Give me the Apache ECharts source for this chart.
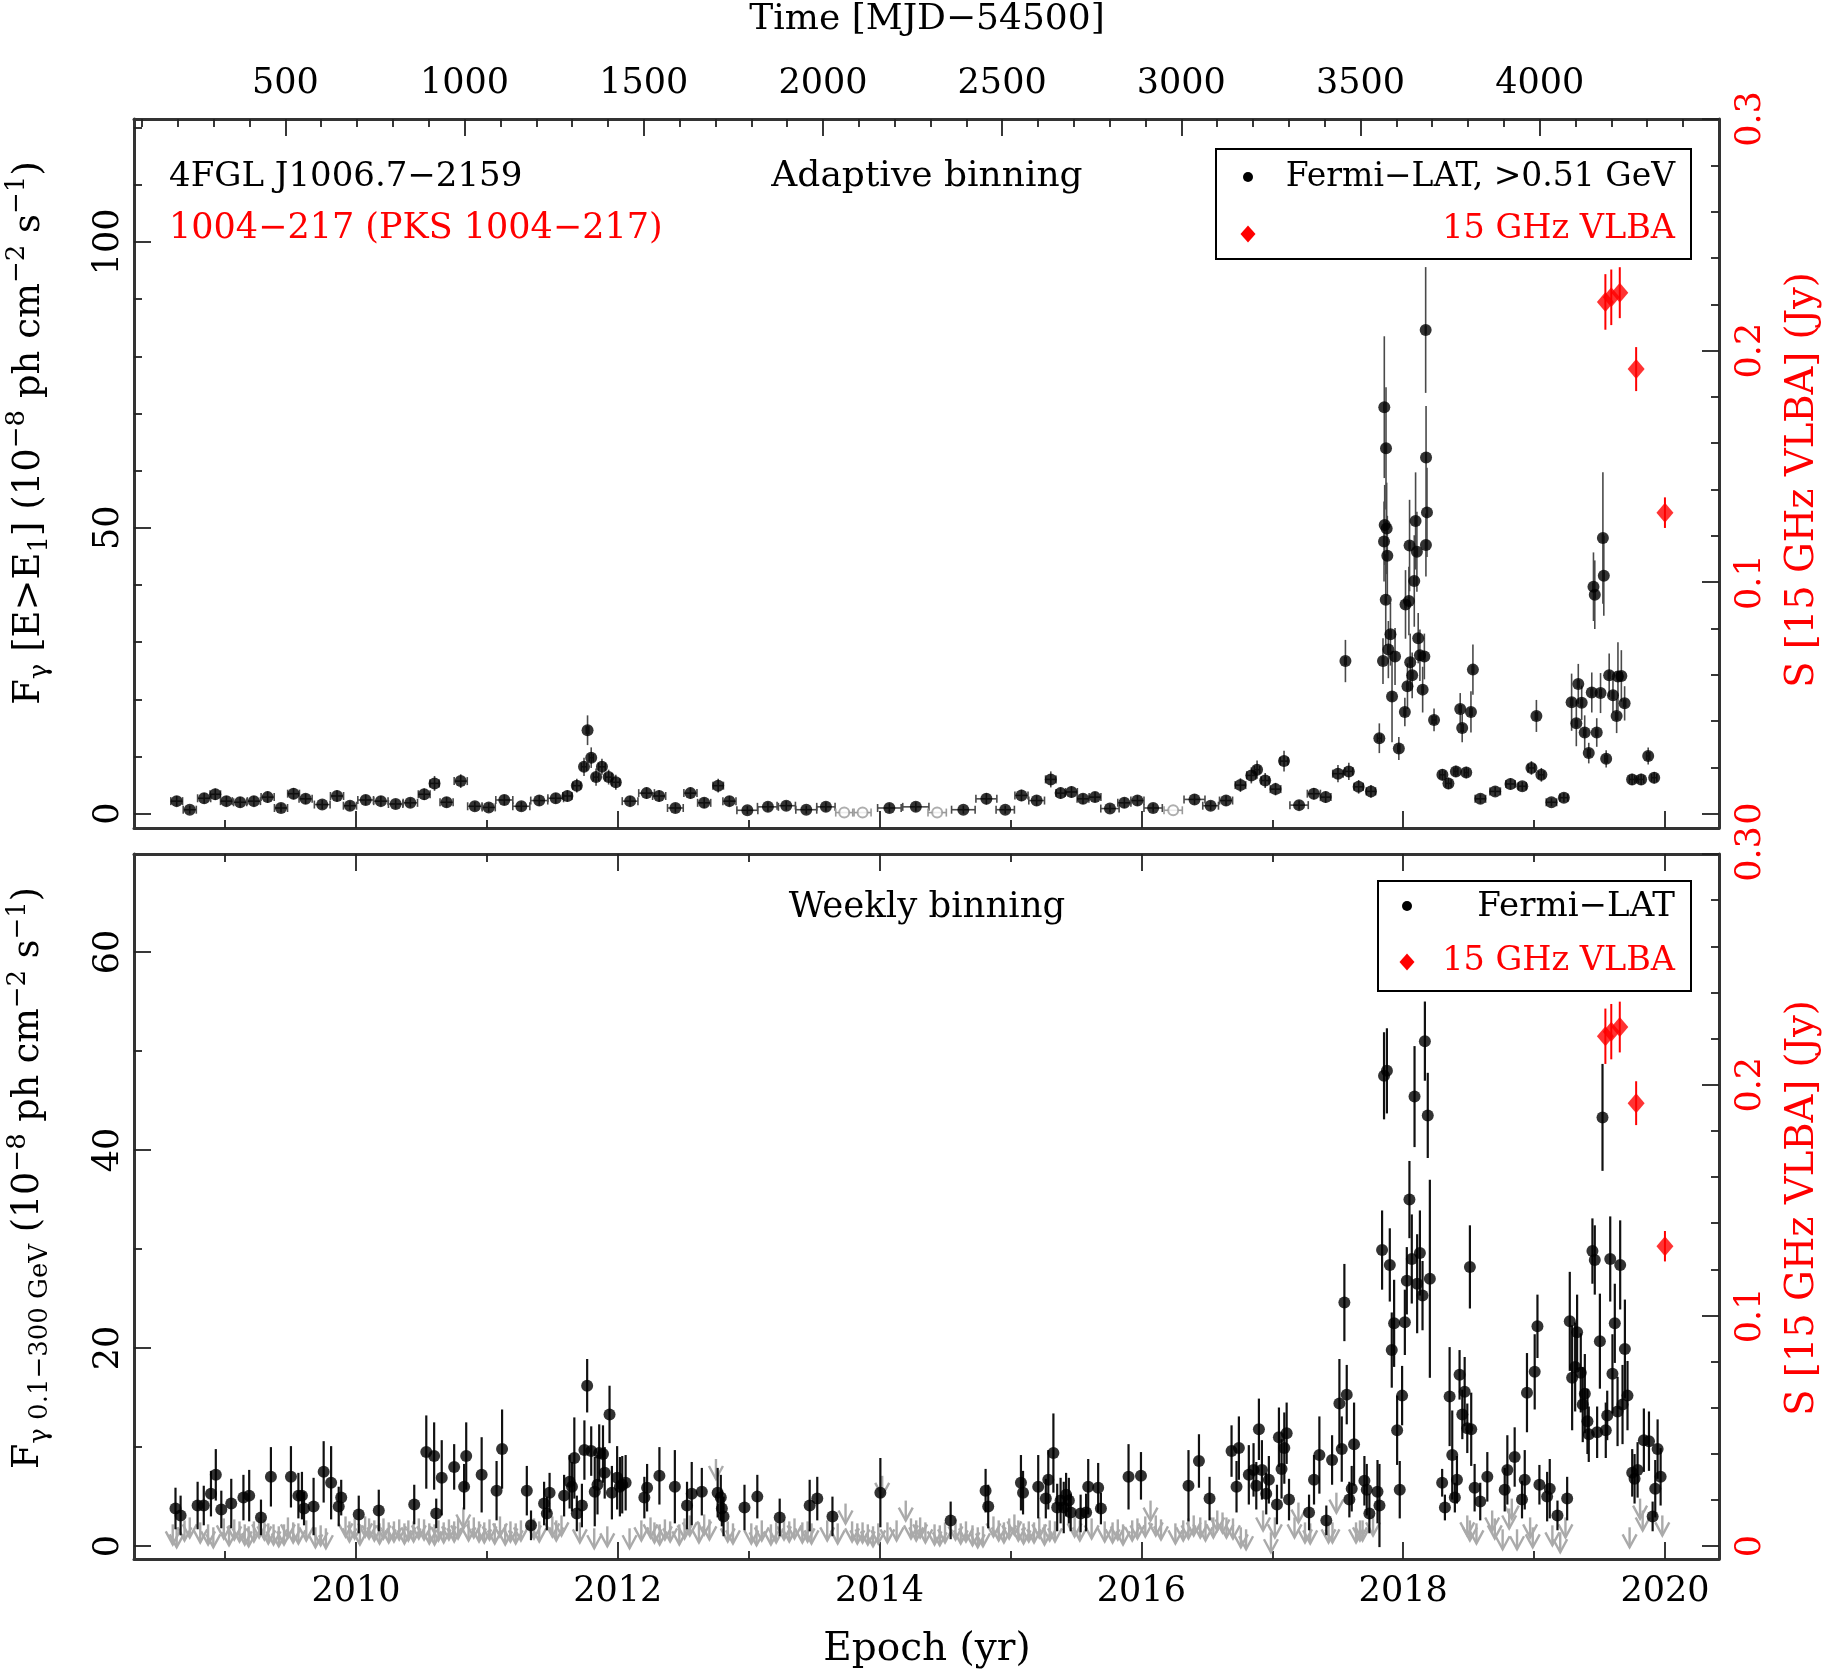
<!DOCTYPE html>
<html><head><meta charset="utf-8">
<script src="https://cdn.jsdelivr.net/npm/echarts@6.0.0/dist/echarts.min.js"></script>
<style>html,body{margin:0;padding:0;background:#fff}#c{width:1826px;height:1671px}</style>
</head><body><div id="c"></div>
<script>
// ---------------- DATA ----------------
// Top panel: adaptive binning, Fermi-LAT >0.51 GeV (1e-8 ph cm^-2 s^-1)
const topYear = [2008.63,2008.73,2008.84,2008.925,2009.01,2009.115,2009.22,2009.325,2009.427,2009.523,2009.615,2009.742,2009.855,2009.954,2010.074,2010.19,2010.303,2010.415,2010.521,2010.60,2010.692,2010.80,2010.908,2011.014,2011.133,2011.263,2011.40,2011.526,2011.615,2011.687,2011.742,2011.769,2011.797,2011.834,2011.879,2011.93,2011.985,2012.094,2012.22,2012.316,2012.44,2012.555,2012.66,2012.767,2012.853,2012.99,2013.147,2013.287,2013.44,2013.59,2014.075,2014.277,2014.64,2014.816,2014.96,2015.084,2015.2,2015.308,2015.383,2015.466,2015.554,2015.646,2015.76,2015.87,2015.97,2016.09,2016.406,2016.529,2016.647,2016.757,2016.84,2016.884,2016.946,2017.025,2017.09,2017.205,2017.318,2017.408,2017.502,2017.559,2017.585,2017.66,2017.754,2017.818,2017.846,2017.856,2017.869,2017.859,2017.874,2017.854,2017.879,2017.867,2017.903,2017.887,2017.938,2017.915,2017.967,2018.013,2018.033,2018.054,2018.069,2018.018,2018.044,2018.049,2018.085,2018.095,2018.105,2018.115,2018.128,2018.149,2018.162,2018.174,2018.172,2018.175,2018.182,2018.236,2018.30,2018.346,2018.403,2018.436,2018.451,2018.482,2018.518,2018.533,2018.59,2018.703,2018.82,2018.91,2018.98,2019.018,2019.056,2019.133,2019.228,2019.287,2019.323,2019.338,2019.364,2019.387,2019.418,2019.441,2019.454,2019.464,2019.479,2019.508,2019.526,2019.533,2019.551,2019.574,2019.603,2019.631,2019.641,2019.667,2019.692,2019.749,2019.818,2019.872,2019.918];
const topFlux = [2.2,0.7,2.7,3.4,2.2,2.0,2.2,2.9,1.0,3.5,2.6,1.6,3.1,1.4,2.4,2.2,1.7,1.9,3.4,5.3,2.0,5.7,1.3,1.1,2.4,1.3,2.3,2.7,3.1,4.9,8.2,14.6,9.8,6.4,8.2,6.4,5.5,2.2,3.6,3.1,1.0,3.6,1.9,4.9,2.2,0.6,1.2,1.4,0.7,1.2,1.0,1.2,0.7,2.6,0.7,3.2,2.3,6.0,3.6,3.8,2.6,2.9,0.9,1.9,2.3,1.0,2.5,1.4,2.3,5.0,6.7,7.7,5.8,4.3,9.2,1.5,3.5,2.9,7.0,26.7,7.4,4.7,3.9,13.2,26.7,71.1,63.9,50.5,49.9,47.6,45.1,37.4,31.4,28.7,27.5,20.5,11.4,17.8,22.3,26.5,24.2,36.6,37.2,46.9,40.7,51.2,45.8,30.7,27.7,21.7,27.5,47.0,84.6,62.3,52.7,16.4,6.8,5.3,7.4,18.3,15.0,7.2,17.8,25.2,2.6,3.9,5.2,4.8,8.0,17.1,6.8,2.0,2.8,19.5,15.8,22.7,19.4,14.2,10.6,21.2,39.7,38.3,14.2,21.1,48.2,41.6,9.6,24.2,20.7,17.1,24.0,24.1,19.3,6.0,6.0,10.1,6.3];
const topErr = [0.9,0.7,0.9,1.0,0.9,0.9,0.9,1.0,0.8,1.0,0.9,0.8,1.0,0.8,0.9,0.9,0.8,0.8,1.0,1.3,0.9,1.2,0.8,0.8,0.9,0.8,0.9,0.9,1.0,1.2,1.6,2.6,1.8,1.5,1.4,1.3,1.3,0.9,1.0,1.0,0.8,1.0,0.9,1.2,0.9,0.7,0.8,0.8,0.7,0.8,0.8,0.8,0.7,1.0,0.7,1.0,0.9,1.4,1.0,1.0,0.9,0.9,0.7,0.9,0.9,0.8,0.9,0.8,0.9,1.2,1.4,1.6,1.3,1.1,1.8,0.8,1.0,1.0,1.5,3.7,1.5,1.2,1.1,2.6,4.0,12.4,10.7,7,8,7,7,8,5.5,5,5,8,2,2.5,4,5,4,6,6,8,8,8.5,7,4.4,4.5,4,4,5.5,11,9,7.8,2,1,1,1,2.8,2.5,1,3.6,4.4,0.8,0.8,1.0,0.8,1.2,2.8,1.2,0.7,0.8,5,4,3.5,3,3,1.8,3.5,6,6,2.5,3.5,11.5,7,1.5,3.8,3,3,6,4.5,3,1,1,1.5,1];
const topXerr = [0.045,0.05,0.05,0.04,0.045,0.05,0.05,0.05,0.05,0.045,0.05,0.06,0.05,0.05,0.06,0.055,0.055,0.055,0.045,0.035,0.05,0.05,0.055,0.05,0.065,0.065,0.065,0.06,0.035,0.03,0.02,0.01,0.015,0.02,0.025,0.025,0.03,0.06,0.06,0.05,0.06,0.05,0.05,0.04,0.05,0.08,0.08,0.07,0.08,0.07,0.09,0.1,0.09,0.08,0.07,0.05,0.06,0.04,0.035,0.045,0.045,0.045,0.07,0.05,0.05,0.07,0.08,0.06,0.05,0.04,0.035,0.02,0.03,0.04,0.03,0.07,0.05,0.04,0.04,0.006,0.03,0.035,0.035,0.015,0.005,0.003,0.003,0.003,0.003,0.003,0.003,0.003,0.004,0.004,0.005,0.005,0.008,0.006,0.005,0.005,0.005,0.004,0.004,0.003,0.003,0.003,0.003,0.004,0.004,0.005,0.004,0.003,0.002,0.002,0.003,0.015,0.02,0.02,0.015,0.008,0.008,0.015,0.008,0.006,0.04,0.04,0.035,0.03,0.025,0.008,0.02,0.04,0.03,0.008,0.008,0.006,0.006,0.008,0.01,0.006,0.004,0.004,0.008,0.006,0.003,0.003,0.01,0.006,0.006,0.008,0.006,0.006,0.008,0.02,0.02,0.012,0.02];
// low-significance adaptive bins (open grey circles)
const topOpenYear = [2013.73,2013.87,2014.44,2016.243];
const topOpenFlux = [0.2,0.2,0.2,0.6];
const topOpenXerr = [0.065,0.065,0.07,0.07];

// 15 GHz VLBA (Jy)
const vlbaYear = [2019.545,2019.59,2019.655,2019.78,2020.0];
const vlbaFlux = [0.221,0.223,0.225,0.192,0.130];
const vlbaErr  = [0.012,0.012,0.011,0.0095,0.0066];

// Bottom panel: weekly binning, 0.1-300 GeV detections
const wkYear = [2008.621,2008.66,2008.79,2008.837,2008.892,2008.929,2008.971,2009.047,2009.14,2009.184,2009.274,2009.35,2009.503,2009.56,2009.587,2009.603,2009.676,2009.753,2009.81,2009.868,2009.887,2010.021,2010.174,2010.445,2010.537,2010.597,2010.613,2010.655,2010.75,2010.826,2010.842,2010.96,2011.074,2011.116,2011.305,2011.337,2011.437,2011.458,2011.479,2011.59,2011.632,2011.65,2011.668,2011.687,2011.726,2011.745,2011.766,2011.797,2011.824,2011.845,2011.858,2011.887,2011.9,2011.937,2011.955,2011.995,2012.016,2012.034,2012.06,2012.203,2012.224,2012.318,2012.436,2012.529,2012.565,2012.642,2012.763,2012.787,2012.795,2012.808,2012.968,2013.066,2013.237,2013.466,2013.524,2013.64,2014.006,2014.543,2014.81,2014.83,2015.08,2015.096,2015.212,2015.27,2015.289,2015.328,2015.357,2015.383,2015.407,2015.425,2015.446,2015.46,2015.536,2015.578,2015.594,2015.67,2015.691,2015.902,2015.997,2016.36,2016.44,2016.521,2016.689,2016.727,2016.745,2016.821,2016.857,2016.878,2016.898,2016.921,2016.954,2016.974,2017.036,2017.051,2017.071,2017.092,2017.11,2017.128,2017.281,2017.319,2017.36,2017.413,2017.457,2017.513,2017.531,2017.551,2017.569,2017.589,2017.607,2017.625,2017.704,2017.722,2017.742,2017.804,2017.819,2017.839,2017.854,2017.876,2017.898,2017.913,2017.931,2017.954,2017.974,2017.992,2018.013,2018.028,2018.048,2018.066,2018.087,2018.107,2018.128,2018.148,2018.166,2018.188,2018.204,2018.298,2018.319,2018.355,2018.375,2018.395,2018.411,2018.431,2018.452,2018.47,2018.49,2018.51,2018.52,2018.546,2018.589,2018.643,2018.776,2018.796,2018.852,2018.908,2018.929,2018.946,2019.005,2019.026,2019.041,2019.1,2019.12,2019.179,2019.253,2019.273,2019.291,2019.314,2019.329,2019.357,2019.372,2019.388,2019.408,2019.418,2019.446,2019.464,2019.482,2019.503,2019.523,2019.548,2019.559,2019.582,2019.599,2019.617,2019.638,2019.658,2019.676,2019.694,2019.714,2019.75,2019.768,2019.791,2019.839,2019.878,2019.906,2019.926,2019.944,2019.967];
const wkFlux = [3.8,3.1,4.1,4.1,5.3,7.2,3.7,4.3,4.9,5.1,2.9,7.0,7.0,5.1,5.1,3.8,4.0,7.5,6.4,4.0,4.9,3.2,3.6,4.2,9.5,9.1,3.3,6.9,8.0,6.0,9.1,7.2,5.6,9.8,5.6,2.1,4.3,3.3,5.4,5.1,6.5,6.0,8.9,3.3,4.1,9.7,16.2,9.6,5.5,6.2,9.4,9.3,7.4,13.3,5.4,6.9,6.0,6.2,6.4,4.9,5.9,7.1,6.0,4.1,5.3,5.5,5.4,4.9,3.8,3.0,3.9,5.0,2.9,4.1,4.8,3.0,5.4,2.6,5.6,4.0,6.4,5.4,6.0,4.8,6.7,9.4,3.9,4.6,3.9,5.2,4.6,3.4,3.3,3.4,6.0,5.9,3.8,7.0,7.1,6.1,8.6,4.8,9.6,6.0,9.9,7.2,7.7,6.1,11.8,7.7,5.3,6.7,4.2,11.0,7.8,9.9,11.4,4.7,3.4,6.7,9.2,2.6,8.7,14.4,9.8,24.6,15.3,4.7,5.8,10.3,6.6,5.7,3.3,5.5,4.1,29.9,47.5,48.0,28.4,19.8,22.5,11.7,5.7,15.2,22.6,26.8,35.0,29.0,45.4,26.5,29.6,25.3,51.0,43.5,27.0,6.4,3.9,15.1,9.2,4.9,6.7,17.3,13.3,15.6,11.9,28.2,11.8,5.9,4.5,7.0,5.7,7.7,9.0,4.7,6.7,15.5,17.6,22.2,6.2,5.0,5.8,3.1,4.8,22.7,17.0,18.1,21.6,17.5,14.3,15.4,12.6,11.3,29.8,28.9,11.5,20.7,43.3,11.7,13.2,29.0,17.4,22.5,13.6,28.4,14.3,19.9,15.2,7.4,6.8,7.7,10.7,10.6,3.0,5.8,9.8,7.0];
const wkErr = [2.1,2.0,2.4,2.0,2.3,2.6,1.9,2.5,2.3,2.6,1.8,3.0,3.1,2.3,2.4,1.7,2.9,3.1,3.7,2.0,1.8,1.9,2.1,2.0,3.7,3.4,1.5,3.8,2.3,2.3,3.4,3.8,3.0,4.0,2.5,1.5,2.2,1.7,2.0,2.1,2.7,2.5,4.1,1.8,2.2,3.0,2.7,2.5,3.5,3.0,2.9,2.9,2.6,2.9,2.7,3.2,3.0,2.9,2.8,2.1,2.4,2.9,3.7,2.4,3.2,2.4,2.5,2.3,1.8,2.0,2.3,2.2,1.9,2.6,2.2,2.0,3.5,1.9,2.2,2.2,2.8,2.2,3.2,2.0,3.0,4.0,2.4,2.3,2.6,2.2,2.3,1.9,1.9,1.9,2.8,2.5,1.6,3.3,2.4,3.6,2.7,2.2,2.6,2.6,3.2,3.0,2.7,2.4,3.1,3.0,2.1,2.4,2.0,3.0,3.0,3.6,3.1,2.1,1.8,2.5,3.9,1.5,2.5,4.5,3.3,3.9,3.0,1.8,2.3,4.2,2.5,2.6,2.0,3.2,4.2,4.0,4.4,4.3,3.7,3.8,4.4,3.5,2.9,3.0,3.3,3.4,3.9,4.5,5.1,5.0,4.3,3.5,4.0,4.3,10.0,1.4,1.3,5.0,4.5,1.5,2.4,2.5,2.5,3.5,2.5,4.2,3.7,2.4,1.9,2.5,2.2,3.5,3.0,1.9,3.0,4.0,3.8,3.2,2.0,2.5,3.0,1.5,2.2,5.0,5.3,4.5,3.8,4.0,3.8,4.0,3.3,2.8,3.3,3.5,2.6,4.8,5.4,2.8,2.5,4.3,4.0,4.0,3.5,4.5,4.0,5.0,3.5,2.4,2.5,2.8,3.2,3.0,1.5,2.9,3.0,2.9];

// Bottom panel: weekly upper limits (grey arrows)
const ulYear = [2008.60,2008.63,2008.69,2008.73,2008.81,2008.87,2008.91,2008.99,2009.03,2009.07,2009.11,2009.15,2009.18,2009.22,2009.26,2009.30,2009.33,2009.37,2009.41,2009.45,2009.48,2009.52,2009.56,2009.62,2009.69,2009.73,2009.77,2009.92,2009.95,2009.99,2010.03,2010.07,2010.10,2010.14,2010.18,2010.21,2010.25,2010.29,2010.33,2010.37,2010.40,2010.44,2010.48,2010.52,2010.56,2010.60,2010.63,2010.67,2010.71,2010.75,2010.78,2010.82,2010.86,2010.90,2010.94,2010.98,2011.02,2011.06,2011.10,2011.14,2011.18,2011.22,2011.26,2011.36,2011.40,2011.50,2011.53,2011.57,2011.71,2011.82,2011.92,2012.09,2012.18,2012.25,2012.28,2012.32,2012.36,2012.40,2012.47,2012.51,2012.55,2012.62,2012.66,2012.70,2012.75,2012.84,2012.88,2013.02,2013.06,2013.10,2013.17,2013.21,2013.27,2013.31,2013.35,2013.41,2013.45,2013.48,2013.60,2013.68,2013.74,2013.79,2013.83,2013.87,2013.91,2013.95,2013.99,2014.02,2014.06,2014.13,2014.20,2014.24,2014.28,2014.31,2014.35,2014.42,2014.46,2014.50,2014.58,2014.62,2014.66,2014.71,2014.75,2014.79,2014.87,2014.91,2014.95,2014.99,2015.03,2015.06,2015.10,2015.14,2015.18,2015.22,2015.26,2015.30,2015.34,2015.49,2015.53,2015.62,2015.72,2015.78,2015.82,2015.86,2015.93,2015.97,2016.03,2016.07,2016.11,2016.15,2016.26,2016.32,2016.36,2016.40,2016.45,2016.49,2016.55,2016.58,2016.62,2016.65,2016.70,2016.76,2016.80,2016.93,2016.99,2017.02,2017.17,2017.20,2017.25,2017.29,2017.43,2017.46,2017.49,2017.64,2017.67,2017.69,2017.77,2018.49,2018.51,2018.56,2018.68,2018.70,2018.76,2018.81,2018.83,2018.87,2018.97,2018.99,2019.14,2019.20,2019.24,2019.73,2019.81,2019.83,2019.98];
const ulFlux = [2.2,1.9,2.6,2.9,2.4,2.2,1.9,2.8,2.1,2.7,2.5,2.2,2.0,2.5,2.9,2.7,2.3,2.2,2.0,2.2,2.9,2.4,2.3,2.6,1.9,2.1,1.8,3.0,2.5,2.8,2.2,3.0,2.8,2.6,2.3,2.8,2.4,2.5,2.7,2.3,2.6,2.5,2.8,2.7,2.3,2.2,2.6,2.4,2.7,2.5,2.8,3.9,2.6,2.9,2.5,2.4,2.7,2.3,3.0,2.2,2.5,2.3,2.6,2.8,2.5,3.0,2.6,3.1,2.4,1.8,2.0,1.8,2.6,2.9,2.4,2.2,2.7,2.5,2.2,2.8,3.1,2.4,3.2,2.7,8.8,2.5,2.3,2.3,2.1,2.6,2.2,2.4,2.7,2.5,2.8,2.4,2.5,2.3,2.6,2.3,4.3,2.5,2.3,2.4,2.2,2.0,2.3,7.1,2.4,2.6,4.6,2.8,2.6,2.9,2.4,2.2,2.1,2.4,2.7,2.3,2.5,2.1,1.9,2.0,3.0,2.6,2.4,2.8,3.2,2.6,2.3,2.5,2.4,2.9,2.2,2.6,2.5,3.0,2.6,2.8,2.5,2.4,2.7,2.2,2.6,2.8,3.0,4.6,3.1,2.7,2.3,2.6,2.8,3.1,2.9,2.6,2.9,3.6,3.4,2.9,2.8,1.9,1.7,3.6,1.4,2.9,2.9,4.4,2.4,2.3,2.4,2.4,5.4,2.4,2.6,2.6,3.1,3.1,2.6,2.3,3.6,2.8,1.7,3.8,4.8,1.7,2.9,1.9,2.1,1.4,2.9,1.9,4.8,3.6,3.1];

// Axis ticks and labels
const yearMajor = [2010,2012,2014,2016,2018,2020];
const yearMinor = [2009,2011,2013,2015,2017,2019];
const mjdMajor = [500,1000,1500,2000,2500,3000,3500,4000];
const mjdMinor = [100,200,300,400,600,700,800,900,1100,1200,1300,1400,1600,1700,1800,1900,2100,2200,2300,2400,2600,2700,2800,2900,3100,3200,3300,3400,3600,3700,3800,3900,4100,4200,4300,4400];
const topLeftMajor = [0,50,100];
const topLeftMinor = [10,20,30,40,60,70,80,90,110,120];
const botLeftMajor = [0,20,40,60];
const botLeftMinor = [10,30,50];
const jyMajor = [0,0.1,0.2,0.3];
const jyMinor = [0.02,0.04,0.06,0.08,0.12,0.14,0.16,0.18,0.22,0.24,0.26,0.28];

// ---------------- CONFIG ----------------
const yearMin = 2008.304, yearMax = 2020.413;
const MJD0_YEAR = 2008.0917; // decimal year of MJD 54500
const mjdMin = (yearMin - MJD0_YEAR) * 365.25;
const mjdMax = (yearMax - MJD0_YEAR) * 365.25;
const topMin = -2.5, topMax = 121.5;
const botMin = -1.3, botMax = 69.9;
const jyMax = 0.3;
const topJyMin = topMin / topMax * jyMax;
const botJyMin = botMin / botMax * jyMax;

const FONT = 'DejaVu Serif';
const AXC = '#333';
const LBL = 35;

function ax(o) {
  return {
    type: 'value', gridIndex: o.grid, position: o.pos, min: o.min, max: o.max,
    axisLine: {show: !!o.line, onZero: false, lineStyle: {color: AXC, width: 3}},
    axisTick: {show: true, inside: true, length: o.len, customValues: o.ticks, lineStyle: {color: '#222', width: 1.8}},
    axisLabel: o.labels ? {show: true, customValues: o.labels, rotate: o.rotate || 0, margin: o.margin,
      fontFamily: FONT, fontSize: LBL, color: o.color || '#000',
      formatter: o.fmt || (v => String(v))} : {show: false},
    splitLine: {show: false}, splitArea: {show: false}
  };
}

const xAxes = [
  ax({grid:0, pos:'bottom', min:yearMin, max:yearMax, ticks:yearMajor, len:17, line:true}),
  ax({grid:0, pos:'bottom', min:yearMin, max:yearMax, ticks:yearMinor, len:8}),
  ax({grid:0, pos:'top', min:mjdMin, max:mjdMax, ticks:mjdMajor, len:17, line:true, labels:mjdMajor, margin:18}),
  ax({grid:0, pos:'top', min:mjdMin, max:mjdMax, ticks:mjdMinor, len:8}),
  ax({grid:1, pos:'bottom', min:yearMin, max:yearMax, ticks:yearMajor, len:17, line:true, labels:yearMajor, margin:15}),
  ax({grid:1, pos:'bottom', min:yearMin, max:yearMax, ticks:yearMinor, len:8}),
  ax({grid:1, pos:'top', min:yearMin, max:yearMax, ticks:yearMajor, len:17, line:true}),
  ax({grid:1, pos:'top', min:yearMin, max:yearMax, ticks:yearMinor, len:8})
];
const jyFmt = v => (v === 0 ? '0' : String(Math.round(v * 10) / 10));
const yAxes = [
  ax({grid:0, pos:'left', min:topMin, max:topMax, ticks:topLeftMajor, len:17, line:true, labels:topLeftMajor, rotate:90, margin:8}),
  ax({grid:0, pos:'left', min:topMin, max:topMax, ticks:topLeftMinor, len:8}),
  ax({grid:0, pos:'right', min:topJyMin, max:jyMax, ticks:jyMajor, len:17, line:true, labels:jyMajor, rotate:90, margin:14, color:'#ff0000', fmt:jyFmt}),
  ax({grid:0, pos:'right', min:topJyMin, max:jyMax, ticks:jyMinor, len:8}),
  ax({grid:1, pos:'left', min:botMin, max:botMax, ticks:botLeftMajor, len:17, line:true, labels:botLeftMajor, rotate:90, margin:8}),
  ax({grid:1, pos:'left', min:botMin, max:botMax, ticks:botLeftMinor, len:8}),
  ax({grid:1, pos:'right', min:botJyMin, max:jyMax, ticks:jyMajor, len:17, line:true, labels:jyMajor, rotate:90, margin:14, color:'#ff0000', fmt:jyFmt}),
  ax({grid:1, pos:'right', min:botJyMin, max:jyMax, ticks:jyMinor, len:8})
];

function errSeries(xi, yi, data, color, lw, cap, z) {
  return {
    type: 'custom', xAxisIndex: xi, yAxisIndex: yi, z: z, silent: true, clip: false,
    data: data, encode: {x: 0, y: 1},
    renderItem: function (params, api) {
      const x = api.value(0), y = api.value(1), xe = api.value(2), ye = api.value(3);
      const c = api.coord([x, y]);
      const t = api.coord([x, y + ye]), b = api.coord([x, y - ye]);
      const st = {stroke: color, lineWidth: lw};
      const ch = [{type: 'line', shape: {x1: c[0], y1: t[1], x2: c[0], y2: b[1]}, style: st}];
      if (xe > 0) {
        const l = api.coord([x - xe, y]), r = api.coord([x + xe, y]);
        ch.push({type: 'line', shape: {x1: l[0], y1: c[1], x2: r[0], y2: c[1]}, style: st});
        ch.push({type: 'line', shape: {x1: l[0], y1: c[1] - cap, x2: l[0], y2: c[1] + cap}, style: st});
        ch.push({type: 'line', shape: {x1: r[0], y1: c[1] - cap, x2: r[0], y2: c[1] + cap}, style: st});
      }
      return {type: 'group', children: ch};
    }
  };
}

const ulSeries = {
  type: 'custom', xAxisIndex: 4, yAxisIndex: 4, z: 1, silent: true,
  data: ulYear.map((x, i) => [x, ulFlux[i]]), encode: {x: 0, y: 1},
  renderItem: function (params, api) {
    const c = api.coord([api.value(0), api.value(1)]);
    const st = {stroke: '#aaaaaa', lineWidth: 2.4, fill: 'none', lineJoin: 'miter'};
    return {type: 'group', children: [
      {type: 'line', shape: {x1: c[0], y1: c[1], x2: c[0], y2: c[1] + 20}, style: st},
      {type: 'polyline', shape: {points: [[c[0] - 7, c[1] + 7], [c[0], c[1] + 20], [c[0] + 7, c[1] + 7]]}, style: st}
    ]};
  }
};

const series = [
  errSeries(0, 0, topYear.map((x, i) => [x, topFlux[i], topXerr[i], topErr[i]]), '#4a4a4a', 1.6, 4, 2),
  errSeries(0, 0, topOpenYear.map((x, i) => [x, topOpenFlux[i], topOpenXerr[i], 0]), '#9a9a9a', 1.6, 4, 2),
  {type: 'scatter', xAxisIndex: 0, yAxisIndex: 0, z: 3, silent: true, symbol: 'circle', symbolSize: 12,
   itemStyle: {color: '#000'}, data: topYear.map((x, i) => [x, topFlux[i]])},
  {type: 'scatter', xAxisIndex: 0, yAxisIndex: 0, z: 3, silent: true, symbol: 'emptyCircle', symbolSize: 10,
   itemStyle: {color: '#9a9a9a', borderWidth: 1.6}, data: topOpenYear.map((x, i) => [x, topOpenFlux[i]])},
  errSeries(0, 2, vlbaYear.map((x, i) => [x, vlbaFlux[i], 0, vlbaErr[i]]), '#ff0000', 2, 0, 4),
  {type: 'scatter', xAxisIndex: 0, yAxisIndex: 2, z: 5, silent: true, symbol: 'diamond', symbolSize: [17, 20],
   itemStyle: {color: '#ff0000'}, data: vlbaYear.map((x, i) => [x, vlbaFlux[i]])},

  ulSeries,
  errSeries(4, 4, wkYear.map((x, i) => [x, wkFlux[i], 0, wkErr[i]]), '#111', 2.2, 0, 2),
  {type: 'scatter', xAxisIndex: 4, yAxisIndex: 4, z: 3, silent: true, symbol: 'circle', symbolSize: 12,
   itemStyle: {color: '#000'}, data: wkYear.map((x, i) => [x, wkFlux[i]])},
  errSeries(4, 6, vlbaYear.map((x, i) => [x, vlbaFlux[i], 0, vlbaErr[i]]), '#ff0000', 2, 0, 4),
  {type: 'scatter', xAxisIndex: 4, yAxisIndex: 6, z: 5, silent: true, symbol: 'diamond', symbolSize: [17, 20],
   itemStyle: {color: '#ff0000'}, data: vlbaYear.map((x, i) => [x, vlbaFlux[i]])}
];

function txt(x, y, s, o) {
  o = o || {};
  return {type: 'text', x: x, y: y, rotation: o.rot || 0, z: 10, silent: true,
    style: {text: s, fill: o.color || '#000', font: (o.size || 33) + 'px "' + FONT + '"',
      align: o.align || 'center', verticalAlign: 'middle', textAlign: o.align || 'center', textVerticalAlign: 'middle',
      rich: o.rich}};
}
function mkRich(color, fs) {
  const s = Math.round(fs * 0.7);
  return {
    n: {fontFamily: FONT, fontSize: fs, color: color, lineHeight: fs + 12, verticalAlign: 'middle'},
    sub: {fontFamily: FONT, fontSize: s, color: color, lineHeight: s + 2, verticalAlign: 'bottom'},
    sup: {fontFamily: FONT, fontSize: s, color: color, lineHeight: s + 2, verticalAlign: 'top'}
  };
}
function diamond(cx, cy, w, h, color) {
  return {type: 'polygon', z: 10, silent: true, shape: {points: [[cx, cy - h / 2], [cx + w / 2, cy], [cx, cy + h / 2], [cx - w / 2, cy]]}, style: {fill: color}};
}

const graphics = [
  txt(927, 20, 'Time [MJD\u221254500]', {size: 36}),
  txt(927, 1650, 'Epoch (yr)', {size: 39}),
  txt(169, 177, '4FGL J1006.7\u22122159', {align: 'left', size: 34}),
  txt(169, 229, '1004\u2212217 (PKS 1004\u2212217)', {align: 'left', color: '#ff0000', size: 35}),
  txt(927, 177, 'Adaptive binning', {size: 36}),
  txt(927, 908, 'Weekly binning', {size: 35.5}),
  txt(29, 433, '{n|F}{sub|\u03b3}{n| [E>E}{sub|1}{n|] (10}{sup|\u22128}{n| ph cm}{sup|\u22122}{n| s}{sup|\u22121}{n|)}', {rot: Math.PI / 2, rich: mkRich('#000', 37)}),
  txt(29, 1178, '{n|F}{sub|\u03b3 0.1\u2212300 GeV}{n| (10}{sup|\u22128}{n| ph cm}{sup|\u22122}{n| s}{sup|\u22121}{n|)}', {rot: Math.PI / 2, rich: mkRich('#000', 36.5)}),
  txt(1803, 480, 'S [15 GHz VLBA] (Jy)', {rot: Math.PI / 2, color: '#ff0000', size: 38.5}),
  txt(1803, 1208, 'S [15 GHz VLBA] (Jy)', {rot: Math.PI / 2, color: '#ff0000', size: 38.5}),
  // legends
  {type: 'rect', z: 9, silent: true, shape: {x: 1216, y: 149, width: 475, height: 110}, style: {fill: '#fff', stroke: '#000', lineWidth: 2}},
  {type: 'circle', z: 10, silent: true, shape: {cx: 1248, cy: 177, r: 5}, style: {fill: '#000'}},
  diamond(1248, 234, 15, 17, '#ff0000'),
  txt(1675, 177, 'Fermi\u2212LAT, >0.51 GeV', {align: 'right', size: 33}),
  txt(1675, 229, '15 GHz VLBA', {align: 'right', color: '#ff0000', size: 33.5}),
  {type: 'rect', z: 9, silent: true, shape: {x: 1378, y: 881, width: 313, height: 110}, style: {fill: '#fff', stroke: '#000', lineWidth: 2}},
  {type: 'circle', z: 10, silent: true, shape: {cx: 1407, cy: 906, r: 5}, style: {fill: '#000'}},
  diamond(1407, 962, 15, 17, '#ff0000'),
  txt(1675, 907, 'Fermi\u2212LAT', {align: 'right', size: 34}),
  txt(1675, 961, '15 GHz VLBA', {align: 'right', color: '#ff0000', size: 33.5})
];

const chart = echarts.init(document.getElementById('c'), null, {renderer: 'canvas', width: 1826, height: 1671});
chart.setOption({
  backgroundColor: '#fff',
  animation: false,
  grid: [
    {left: 134, top: 119, width: 1585, height: 709, containLabel: false},
    {left: 134, top: 854, width: 1585, height: 705, containLabel: false}
  ],
  xAxis: xAxes,
  yAxis: yAxes,
  series: series,
  graphic: {elements: graphics}
});
</script></body></html>
